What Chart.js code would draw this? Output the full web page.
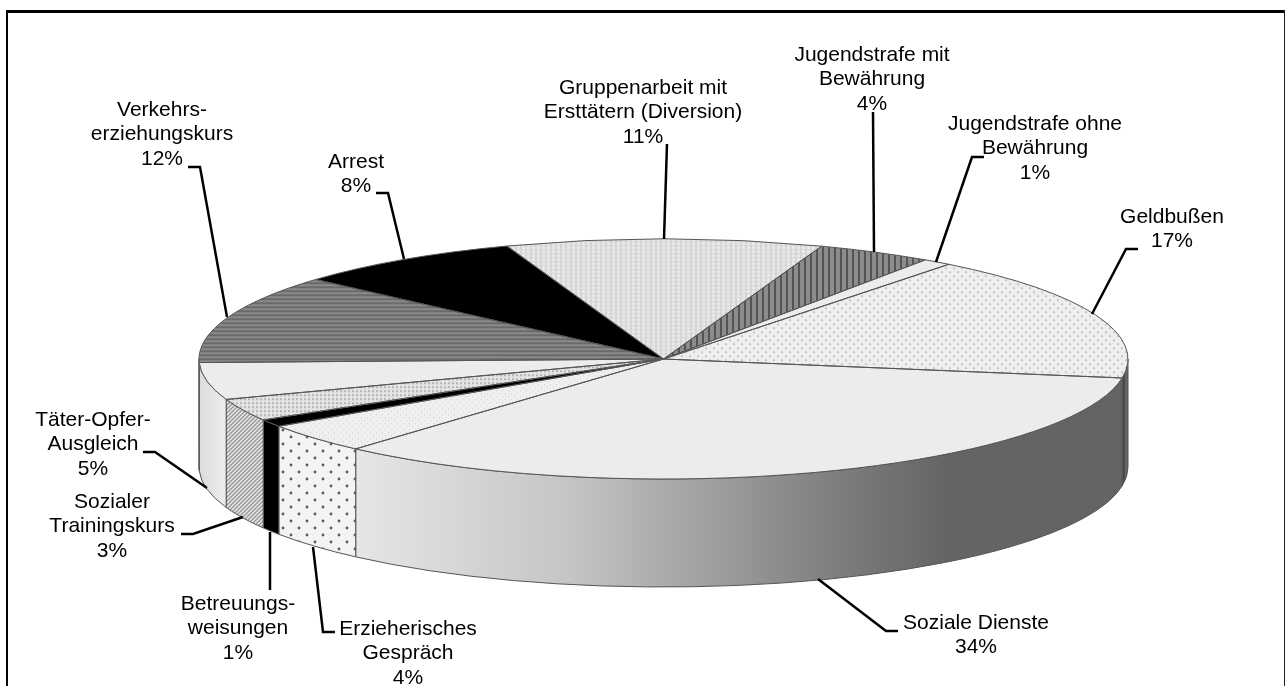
<!DOCTYPE html>
<html lang="de">
<head>
<meta charset="utf-8">
<title>Sanktionen</title>
<script src="https://cdn.jsdelivr.net/npm/chart.js@4"></script>
<style>
  html, body { margin: 0; padding: 0; background: #fff; overflow: hidden; }
  canvas { display: block; }
</style>
</head>
<body>
<canvas id="grafico" width="1285" height="686"></canvas>
<script>
const categories = [
  ['Geldbußen'],
  ['Soziale Dienste'],
  ['Erzieherisches', 'Gespräch'],
  ['Betreuungs-', 'weisungen'],
  ['Sozialer', 'Trainingskurs'],
  ['Täter-Opfer-', 'Ausgleich'],
  ['Verkehrs-', 'erziehungskurs'],
  ['Arrest'],
  ['Gruppenarbeit mit', 'Ersttätern (Diversion)'],
  ['Jugendstrafe mit', 'Bewährung'],
  ['Jugendstrafe ohne', 'Bewährung']
];
const shares = [17, 34, 4, 1, 3, 5, 12, 8, 11, 4, 1];

// label centre x, first line y
const labelPos = [
  [1172, 217], [976, 623], [408, 629], [238, 604], [112, 502], [93, 420],
  [162, 110], [356, 162], [643, 88], [872, 55], [1035, 124]
];
// leader polylines
const leaders = [
  [[1138, 249], [1126, 249], [1092, 314]],
  [[898, 631], [886, 631], [818, 579]],
  [[335, 632], [323, 632], [313, 547]],
  [[270, 590], [270, 532]],
  [[181, 534], [193, 534], [243, 517]],
  [[143, 452], [155, 452], [207, 488]],
  [[188, 167], [200, 167], [227, 317]],
  [[376, 193], [388, 193], [404, 259]],
  [[667, 144], [664, 239]],
  [[873, 112], [874, 252]],
  [[984, 157], [972, 157], [936, 262]]
];

const radiusX = 464.5;
const radiusY = 120;
const depth = 108;
const squash = radiusY / radiusX;
const lineColor = '#555';

function makePattern(w, h, paint) {
  const c = document.createElement('canvas');
  c.width = w;
  c.height = h;
  paint(c.getContext('2d'));
  return document.createElement('canvas').getContext('2d').createPattern(c, 'repeat');
}

// for the top faces: cancels the squash so that the texture stays square
function flatPattern(w, h, paint) {
  const p = makePattern(w, h, paint);
  p.setTransform(new DOMMatrix().scale(1, 1 / squash));
  return p;
}

const dotsBig = flatPattern(8, 8, g => {
  g.fillStyle = '#eee'; g.fillRect(0, 0, 8, 8);
  g.fillStyle = '#c6c6c6'; g.fillRect(1, 1, 2, 2); g.fillRect(5, 5, 2, 2);
});
const dotsFine = flatPattern(6, 6, g => {
  g.fillStyle = '#efefef'; g.fillRect(0, 0, 6, 6);
  g.fillStyle = '#cfcfcf'; g.fillRect(1, 1, 1, 1); g.fillRect(4, 4, 1, 1);
});
const checks = flatPattern(4, 4, g => {
  g.fillStyle = '#e4e4e4'; g.fillRect(0, 0, 4, 4);
  g.fillStyle = '#b4b4b4'; g.fillRect(0, 0, 2, 2);
});
const gridLight = flatPattern(5, 4, g => {
  g.fillStyle = '#e9e9e9'; g.fillRect(0, 0, 5, 4);
  g.fillStyle = '#d6d6d6'; g.fillRect(0, 0, 2, 4); g.fillRect(0, 3, 5, 1);
});
const stripesV = flatPattern(6, 4, g => {
  g.fillStyle = '#8c8c8c'; g.fillRect(0, 0, 6, 4);
  g.fillStyle = '#545454'; g.fillRect(0, 0, 2, 4);
});
const stripesH = flatPattern(4, 4, g => {
  g.fillStyle = '#8a8a8a'; g.fillRect(0, 0, 4, 4);
  g.fillStyle = '#6a6a6a'; g.fillRect(0, 0, 4, 2);
});

const topFills = [dotsBig, '#ececec', dotsFine, '#000', checks, '#ececec',
  stripesH, '#000', gridLight, stripesV, '#ececec'];

const wallDots = makePattern(16, 14, g => {
  g.fillStyle = '#f3f3f3'; g.fillRect(0, 0, 16, 14);
  g.fillStyle = '#5c5c5c';
  g.beginPath(); g.arc(3, 3, 1.4, 0, Math.PI * 2); g.arc(11, 10, 1.4, 0, Math.PI * 2); g.fill();
});
const wallHatch = makePattern(4, 4, g => {
  g.fillStyle = '#e2e2e2'; g.fillRect(0, 0, 4, 4);
  g.strokeStyle = '#8e8e8e'; g.lineWidth = 1.2;
  g.beginPath(); g.moveTo(0, 4); g.lineTo(4, 0); g.moveTo(-1, 1); g.lineTo(1, -1); g.moveTo(3, 5); g.lineTo(5, 3); g.stroke();
});
const wallDark = makePattern(6, 4, g => {
  g.fillStyle = '#666'; g.fillRect(0, 0, 6, 4);
  g.fillStyle = '#4a4a4a'; g.fillRect(0, 0, 3, 4);
});

function wallFills(ctx) {
  const grad = ctx.createLinearGradient(355, 0, 950, 0);
  grad.addColorStop(0, '#e6e6e6');
  grad.addColorStop(0.35, '#c6c6c6');
  grad.addColorStop(0.51, '#adadad');
  grad.addColorStop(0.68, '#929292');
  grad.addColorStop(0.85, '#787878');
  grad.addColorStop(1, '#646464');
  const gradLeft = ctx.createLinearGradient(199, 0, 226, 0);
  gradLeft.addColorStop(0, '#dcdcdc');
  gradLeft.addColorStop(1, '#ededed');
  return [wallDark, grad, wallDots, '#000', wallHatch, gradLeft, '#777'];
}

const pie3d = {
  id: 'pie3d',
  beforeDatasetsDraw(chart) {
    const ctx = chart.ctx;
    const arcs = chart.getDatasetMeta(0).data;
    const fills = wallFills(ctx);
    ctx.lineWidth = 1;
    ctx.strokeStyle = lineColor;
    // side wall of the slices on the front half
    arcs.forEach((arc, i) => {
      const a = Math.max(arc.startAngle, 0);
      const b = Math.min(arc.endAngle, Math.PI);
      if (b <= a) return;
      ctx.beginPath();
      ctx.ellipse(arc.x, arc.y, radiusX, radiusY, 0, a, b);
      ctx.ellipse(arc.x, arc.y + depth, radiusX, radiusY, 0, b, a, true);
      ctx.closePath();
      ctx.fillStyle = fills[i];
      ctx.fill();
      ctx.stroke();
    });
    const c = arcs[0];
    ctx.save();
    ctx.translate(c.x, c.y);
    ctx.scale(1, squash);
    ctx.translate(-c.x, -c.y);
  },
  afterDatasetsDraw(chart) {
    const ctx = chart.ctx;
    ctx.restore();
    const arcs = chart.getDatasetMeta(0).data;
    ctx.lineWidth = 1;
    ctx.strokeStyle = lineColor;
    arcs.forEach(arc => {
      ctx.beginPath();
      ctx.moveTo(arc.x, arc.y);
      ctx.ellipse(arc.x, arc.y, radiusX, radiusY, 0, arc.startAngle, arc.endAngle);
      ctx.closePath();
      ctx.stroke();
    });

    // leaders
    ctx.strokeStyle = '#000';
    ctx.lineWidth = 2.5;
    ctx.lineJoin = 'miter';
    leaders.forEach(pts => {
      ctx.beginPath();
      pts.forEach((p, j) => j ? ctx.lineTo(p[0], p[1]) : ctx.moveTo(p[0], p[1]));
      ctx.stroke();
    });

    // labels
    ctx.fillStyle = '#000';
    ctx.font = '21px "Liberation Sans"';
    ctx.textAlign = 'center';
    ctx.textBaseline = 'middle';
    categories.forEach((lines, i) => {
      const rows = lines.concat(shares[i] + '%');
      rows.forEach((t, j) => ctx.fillText(t, labelPos[i][0], labelPos[i][1] + j * 24.7));
    });

    // frame, cut off at the bottom of the picture
    ctx.fillStyle = '#000';
    ctx.fillRect(6, 10, 1279, 3);
    ctx.fillRect(6, 10, 2, 676);
    ctx.fillStyle = '#222';
    ctx.fillRect(1284, 10, 1, 676);
  }
};

new Chart(document.getElementById('grafico'), {
  type: 'pie',
  data: {
    labels: categories.map(l => l.join(' ')),
    datasets: [{
      data: shares,
      backgroundColor: topFills,
      borderWidth: 0
    }]
  },
  options: {
    responsive: false,
    animation: false,
    rotation: 37.9,
    radius: radiusX,
    layout: { padding: { left: 42, top: 32 } },
    plugins: { legend: { display: false }, tooltip: { enabled: false } }
  },
  plugins: [pie3d]
});
</script>
</body>
</html>
